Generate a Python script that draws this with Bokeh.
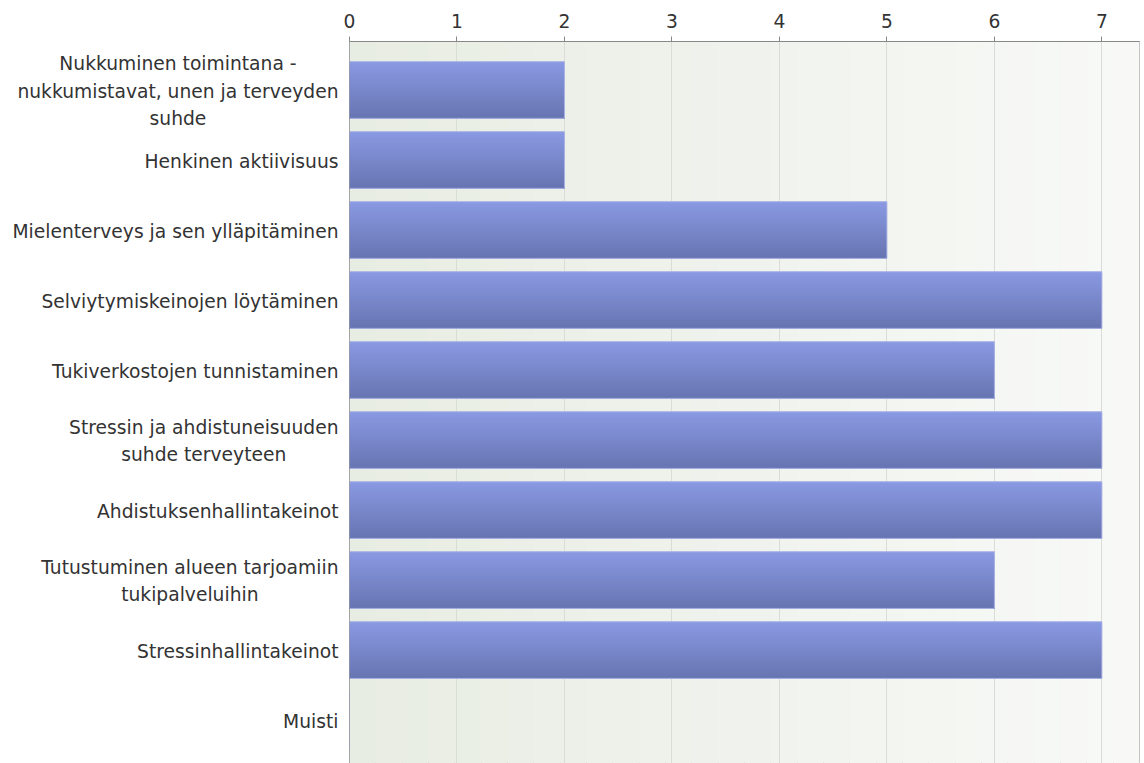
from bokeh.plotting import figure
from bokeh.layouts import row
from bokeh.models import Range1d, BoxAnnotation, FixedTicker, ColumnDataSource, Span
from bokeh.core.properties import value
from bokeh.embed import file_html
from bokeh.resources import INLINE

# Survey topics and how many respondents picked each one
categories = [
    "Nukkuminen toimintana -\nnukkumistavat, unen ja terveyden\nsuhde",
    "Henkinen aktiivisuus",
    "Mielenterveys ja sen ylläpitäminen",
    "Selviytymiskeinojen löytäminen",
    "Tukiverkostojen tunnistaminen",
    "Stressin ja ahdistuneisuuden\nsuhde terveyteen",
    "Ahdistuksenhallintakeinot",
    "Tutustuminen alueen tarjoamiin\ntukipalveluihin",
    "Stressinhallintakeinot",
    "Muisti",
]
counts = [2, 2, 5, 7, 6, 7, 7, 6, 7, 0]
x_ticks = [0, 1, 2, 3, 4, 5, 6, 7]

FONT = "DejaVu Sans"
TEXT_COLOR = "#333333"
LABEL_SIZE = "18.7px"

TOTAL_W, TOTAL_H = 1144, 763
LABEL_W = 343        # width of the category-name column
TOP = 41             # room for the value axis above the bars
X_END = 7.35


def lerp_hex(c0, c1, t):
    a = [int(c0[i:i + 2], 16) for i in (1, 3, 5)]
    b = [int(c1[i:i + 2], 16) for i in (1, 3, 5)]
    return "#%02x%02x%02x" % tuple(round(a[j] + (b[j] - a[j]) * t) for j in range(3))


ys = list(range(len(categories)))
y_range = Range1d(9.62, -0.693)

# ---- bar chart -------------------------------------------------------------
p = figure(
    width=TOTAL_W - LABEL_W, height=TOTAL_H,
    output_backend="svg", toolbar_location=None,
    x_range=Range1d(0, X_END), y_range=y_range,
    x_axis_location="above", y_axis_location=None,
    min_border_left=6, min_border_right=5, min_border_top=TOP, min_border_bottom=0,
)
p.background_fill_color = "#eef1eb"
p.border_fill_color = "white"
p.outline_line_color = "#b4b4b4"
p.outline_line_width = 1

# soft left-to-right background wash
n_bands = 30
for k in range(n_bands):
    x0 = X_END * k / n_bands
    x1 = X_END * (k + 1) / n_bands
    p.add_layout(BoxAnnotation(
        left=x0, right=x1, fill_color=lerp_hex("#e8ede3", "#f8f9f7", k / (n_bands - 1)),
        fill_alpha=1.0, line_color=None, level="image"))

p.xgrid.ticker = FixedTicker(ticks=x_ticks)
p.xgrid.grid_line_color = "#dadcd8"
p.ygrid.grid_line_color = None

# horizontal bars shaded from top to bottom: each strip runs from its own
# top edge down to the bar's bottom, so later strips overlap earlier ones
bar_h = 0.81
n_strips = 28
for k in range(n_strips):
    top_off = -bar_h / 2 + k * bar_h / n_strips
    strip_h = bar_h / 2 - top_off
    src = ColumnDataSource(dict(y=[y + top_off + strip_h / 2 for y in ys], right=counts))
    p.hbar(y="y", left=0, right="right", height=strip_h, source=src,
           fill_color=lerp_hex("#8999e2", "#6875b2", k / (n_strips - 1)), line_color=None)

outline_src = ColumnDataSource(dict(y=ys, right=counts))
p.hbar(y="y", left=0, right="right", height=bar_h, source=outline_src,
       fill_color=None, line_color="#aab3e4", line_width=1)

# left axis line
p.add_layout(Span(location=0, dimension="height", line_color="#888888", line_width=1))

# value axis on top
xa = p.xaxis[0]
xa.ticker = FixedTicker(ticks=x_ticks)
xa.axis_line_color = "#888888"
xa.major_tick_line_color = "#888888"
xa.major_tick_out = 5
xa.major_tick_in = 0
xa.minor_tick_line_color = None
xa.major_label_text_font = FONT
xa.major_label_text_font_size = LABEL_SIZE
xa.major_label_text_color = TEXT_COLOR
xa.major_label_standoff = 9

# ---- category names --------------------------------------------------------
lab = figure(
    width=LABEL_W, height=TOTAL_H,
    output_backend="svg", toolbar_location=None,
    x_range=Range1d(0, LABEL_W), y_range=y_range,
    x_axis_location=None, y_axis_location=None,
    min_border_left=0, min_border_right=0, min_border_top=TOP, min_border_bottom=0,
)
lab.outline_line_color = None
lab.background_fill_color = "white"
lab.border_fill_color = "white"
lab.xgrid.grid_line_color = None
lab.ygrid.grid_line_color = None

name_src = ColumnDataSource(dict(x=[LABEL_W - 5] * len(ys), y=ys, text=categories))
lab.text(x="x", y="y", text="text", source=name_src,
         anchor=value("center_right"), text_align="center", text_baseline="middle",
         y_offset=1,
         text_font=value(FONT), text_font_size=value(LABEL_SIZE),
         text_color=TEXT_COLOR, text_line_height=1.32)

layout = row(lab, p, spacing=0)
open("out.html", "w").write(file_html(layout, INLINE))
